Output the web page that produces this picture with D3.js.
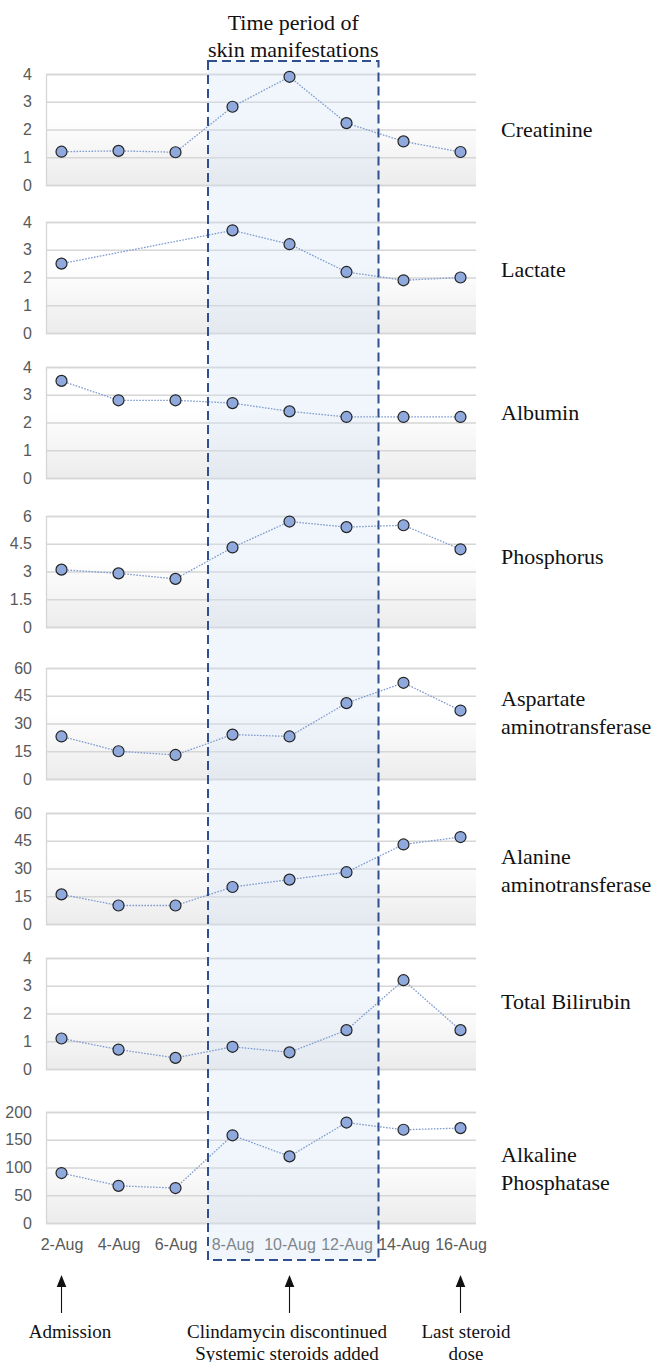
<!DOCTYPE html>
<html>
<head>
<meta charset="utf-8">
<script src="https://cdn.jsdelivr.net/npm/d3@7/dist/d3.min.js"></script>
<style>
  html, body { margin: 0; padding: 0; background: #ffffff; }
  svg { display: block; }
</style>
</head>
<body>
<svg id="chart" width="662" height="1362"></svg>
<script>
// ---------- DATA ----------
const dates = ["2-Aug", "4-Aug", "6-Aug", "8-Aug", "10-Aug", "12-Aug", "14-Aug", "16-Aug"];

const creatinine = [1.2, 1.23, 1.18, 2.82, 3.9, 2.23, 1.57, 1.19];
const lactate    = [2.5, null, null, 3.7, 3.2, 2.2, 1.9, 2.0];
const albumin    = [3.5, 2.8, 2.8, 2.7, 2.4, 2.2, 2.2, 2.2];
const phosphorus = [3.1, 2.9, 2.6, 4.3, 5.7, 5.4, 5.5, 4.2];
const ast        = [23, 15, 13, 24, 23, 41, 52, 37];
const alt        = [16, 10, 10, 20, 24, 28, 43, 47];
const bilirubin  = [1.1, 0.7, 0.4, 0.8, 0.6, 1.4, 3.2, 1.4];
const alp        = [90, 67, 63, 158, 120, 181, 168, 171];

const ticks0to4   = [0, 1, 2, 3, 4];
const ticks0to6   = [0, 1.5, 3, 4.5, 6];
const ticks0to60  = [0, 15, 30, 45, 60];
const ticks0to200 = [0, 50, 100, 150, 200];

const seriesNames = [
  ["Creatinine"],
  ["Lactate"],
  ["Albumin"],
  ["Phosphorus"],
  ["Aspartate", "aminotransferase"],
  ["Alanine", "aminotransferase"],
  ["Total Bilirubin"],
  ["Alkaline", "Phosphatase"]
];
const seriesValues = [creatinine, lactate, albumin, phosphorus, ast, alt, bilirubin, alp];
const seriesTicks  = [ticks0to4, ticks0to4, ticks0to4, ticks0to6, ticks0to60, ticks0to60, ticks0to4, ticks0to200];

const periodTitle = ["Time period of", "skin manifestations"];
const periodStart = "8-Aug";
const periodEnd   = "12-Aug";

const eventDates = ["2-Aug", "10-Aug", "16-Aug"];
const eventTexts = [["Admission"], ["Clindamycin discontinued", "Systemic steroids added"], ["Last steroid", "dose"]];

// ---------- LAYOUT ----------
const panelTops  = [74, 222, 367, 516, 668, 813, 958, 1112];
const labelMid   = [130, 270, 413, 557, 713, 871, 1002, 1169];
const eventTextX = [70, 287, 466];
const panelH = 111;
const plotL = 46, plotR = 476;

const svg = d3.select("#chart");
const defs = svg.append("defs");
const grad = defs.append("linearGradient").attr("id", "panelBg")
  .attr("x1", 0).attr("y1", 0).attr("x2", 0).attr("y2", 1);
grad.append("stop").attr("offset", "0%").attr("stop-color", "#ffffff");
grad.append("stop").attr("offset", "40%").attr("stop-color", "#ffffff");
grad.append("stop").attr("offset", "100%").attr("stop-color", "#ececec");

const x = d3.scalePoint().domain(dates).range([plotL, plotR]).padding(0.272);

const gBack = svg.append("g");
const gBox = svg.append("g");
const gData = svg.append("g");
const gTop = svg.append("g");

const sansFont = "'Liberation Sans', Arial, sans-serif";
const serifFont = "'Liberation Serif', 'Times New Roman', serif";

seriesValues.forEach((vals, i) => {
  const top = panelTops[i];
  const ticks = seriesTicks[i];
  const y = d3.scaleLinear().domain([0, d3.max(ticks)]).range([top + panelH, top]);

  gBack.append("rect")
    .attr("x", plotL).attr("y", top)
    .attr("width", plotR - plotL).attr("height", panelH)
    .attr("fill", "url(#panelBg)");

  const axis = d3.axisLeft(y).tickValues(ticks).tickSize(-(plotR - plotL)).tickPadding(14)
    .tickFormat(d => d3.format("")(d));
  const ga = gBack.append("g").attr("transform", `translate(${plotL},0)`).call(axis);
  ga.select(".domain").attr("stroke", "#d6d6d6").attr("stroke-width", 1.3);
  ga.selectAll(".tick line").attr("stroke", "#d6d6d6").attr("stroke-width", 1.3);
  ga.selectAll(".tick text")
    .attr("fill", "#595959")
    .style("font-family", sansFont)
    .style("font-size", "16px");

  const pts = dates.map((d, j) => ({ d, v: vals[j] })).filter(p => p.v !== null);
  const line = d3.line().x(p => x(p.d)).y(p => y(p.v));
  gData.append("path")
    .datum(pts)
    .attr("d", line)
    .attr("fill", "none")
    .attr("stroke", "#7f9bd0")
    .attr("stroke-width", 1.3)
    .attr("stroke-dasharray", "1.6,1.4");

  gData.selectAll(null).data(pts).enter().append("circle")
    .attr("cx", p => x(p.d)).attr("cy", p => y(p.v))
    .attr("r", 5.5)
    .attr("fill", "#8fa9dc")
    .attr("stroke", "#222222")
    .attr("stroke-width", 1.2);

  const names = seriesNames[i];
  const lh = 28;
  const t = gTop.append("text")
    .attr("x", 501)
    .style("font-family", serifFont)
    .style("font-size", "22px")
    .attr("fill", "#111111");
  names.forEach((n, k) => {
    t.append("tspan")
      .attr("x", 501)
      .attr("y", labelMid[i] + 7 + (k - (names.length - 1) / 2) * lh)
      .text(n);
  });

  if (i === seriesValues.length - 1) {
    const xa = d3.axisBottom(x).tickSize(0).tickPadding(16);
    const gx = gBack.append("g").attr("transform", `translate(0,${top + panelH})`).call(xa);
    gx.select(".domain").remove();
    gx.selectAll(".tick text")
      .attr("fill", "#595959")
      .style("font-family", sansFont)
      .style("font-size", "16px");
  }
});

// ---------- period box ----------
const boxL = x(periodStart) - 24.5;
const boxR = x(periodEnd) + 32;
const boxTop = 61, boxBottom = 1260;
gBox.append("rect")
  .attr("x", boxL).attr("y", boxTop)
  .attr("width", boxR - boxL).attr("height", boxBottom - boxTop)
  .attr("fill", "rgb(208,226,246)")
  .attr("fill-opacity", 0.32);
gTop.append("rect")
  .attr("x", boxL).attr("y", boxTop)
  .attr("width", boxR - boxL).attr("height", boxBottom - boxTop)
  .attr("fill", "none")
  .attr("stroke", "#2f4f8f")
  .attr("stroke-width", 2)
  .attr("stroke-dasharray", "9,5");

const title = gTop.append("text")
  .attr("text-anchor", "middle")
  .style("font-family", serifFont)
  .style("font-size", "22px")
  .attr("fill", "#111111");
periodTitle.forEach((s, k) => {
  title.append("tspan").attr("x", (boxL + boxR) / 2).attr("y", 30 + k * 27).text(s);
});

// ---------- event arrows ----------
eventDates.forEach((d, i) => {
  const ax = x(d);
  gTop.append("line")
    .attr("x1", ax).attr("x2", ax)
    .attr("y1", 1313).attr("y2", 1284)
    .attr("stroke", "#111111").attr("stroke-width", 1.1);
  gTop.append("path")
    .attr("d", `M${ax},1275 L${ax - 4.8},1287 L${ax + 4.8},1287 Z`)
    .attr("fill", "#111111");
  const t = gTop.append("text")
    .attr("text-anchor", "middle")
    .style("font-family", serifFont)
    .style("font-size", "19px")
    .attr("fill", "#111111");
  eventTexts[i].forEach((s, k) => {
    t.append("tspan").attr("x", eventTextX[i]).attr("y", 1338 + k * 21.5).text(s);
  });
});
</script>
</body>
</html>
